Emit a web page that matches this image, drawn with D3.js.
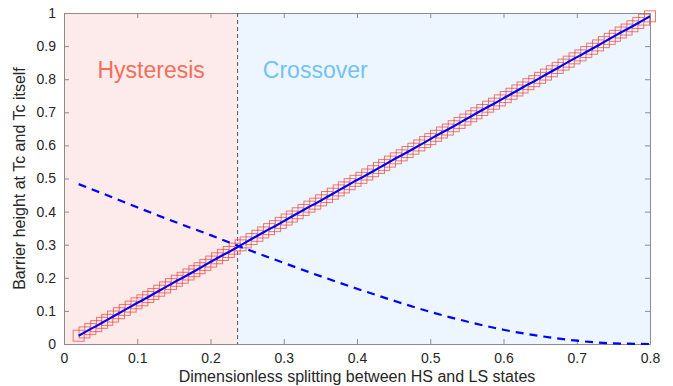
<!DOCTYPE html>
<html>
<head>
<meta charset="utf-8">
<script src="https://cdn.jsdelivr.net/npm/d3@7"></script>
<style>
  body { margin: 0; background: #fff; }
  svg text { font-family: "Liberation Sans", Arial, sans-serif; }
</style>
</head>
<body>
<div id="chart"></div>
<script>
// splitting values where the barrier was computed (red squares + solid line)
var splitting = [0.020, 0.028, 0.036, 0.044, 0.052, 0.059, 0.067, 0.075, 0.083, 0.091,
  0.099, 0.107, 0.115, 0.122, 0.130, 0.138, 0.146, 0.154, 0.162, 0.170,
  0.178, 0.185, 0.193, 0.201, 0.209, 0.217, 0.225, 0.233, 0.241, 0.248,
  0.256, 0.264, 0.272, 0.280, 0.288, 0.296, 0.304, 0.311, 0.319, 0.327,
  0.335, 0.343, 0.351, 0.359, 0.367, 0.375, 0.382, 0.390, 0.398, 0.406,
  0.414, 0.422, 0.430, 0.437, 0.445, 0.453, 0.461, 0.469, 0.477, 0.485,
  0.493, 0.500, 0.508, 0.516, 0.524, 0.532, 0.540, 0.548, 0.556, 0.563,
  0.571, 0.579, 0.587, 0.595, 0.603, 0.611, 0.619, 0.626, 0.634, 0.642,
  0.650, 0.658, 0.666, 0.674, 0.682, 0.689, 0.697, 0.705, 0.713, 0.721,
  0.729, 0.737, 0.745, 0.752, 0.760, 0.768, 0.776, 0.784, 0.792, 0.800];
var tcValues = [0.025, 0.035, 0.045, 0.054, 0.064, 0.073, 0.083, 0.093, 0.103, 0.113,
  0.123, 0.132, 0.142, 0.151, 0.161, 0.171, 0.181, 0.191, 0.200, 0.210,
  0.220, 0.229, 0.239, 0.249, 0.259, 0.269, 0.278, 0.288, 0.298, 0.307,
  0.317, 0.327, 0.337, 0.347, 0.356, 0.366, 0.376, 0.385, 0.395, 0.405,
  0.415, 0.424, 0.434, 0.444, 0.454, 0.464, 0.473, 0.483, 0.493, 0.502,
  0.512, 0.522, 0.532, 0.541, 0.551, 0.561, 0.570, 0.580, 0.590, 0.600,
  0.610, 0.619, 0.629, 0.639, 0.648, 0.658, 0.668, 0.678, 0.688, 0.697,
  0.707, 0.717, 0.726, 0.736, 0.746, 0.756, 0.766, 0.775, 0.785, 0.794,
  0.804, 0.814, 0.824, 0.834, 0.844, 0.853, 0.863, 0.872, 0.882, 0.892,
  0.902, 0.912, 0.922, 0.931, 0.941, 0.950, 0.960, 0.970, 0.980, 0.990];

// dashed curve: barrier height
var barrierX = [0.02, 0.05, 0.10, 0.15, 0.20, 0.25, 0.30, 0.35, 0.40,
  0.45, 0.50, 0.55, 0.60, 0.65, 0.70, 0.75, 0.80];
var barrierY = [0.483, 0.457, 0.413, 0.370, 0.329, 0.286, 0.245, 0.205, 0.167,
  0.131, 0.097, 0.068, 0.043, 0.024, 0.010, 0.002, 0.000];

var crossoverAt = 0.237;
var xTicks = [0, 0.1, 0.2, 0.3, 0.4, 0.5, 0.6, 0.7, 0.8];
var yTicks = [0, 0.1, 0.2, 0.3, 0.4, 0.5, 0.6, 0.7, 0.8, 0.9, 1];

var w = 673, h = 386;
var margin = {top: 13, right: 23, bottom: 42, left: 64};
var iw = w - margin.left - margin.right;
var ih = h - margin.top - margin.bottom;

var svg = d3.select("#chart").append("svg")
  .attr("width", w)
  .attr("height", h);
var g = svg.append("g").attr("transform", "translate(" + margin.left + "," + margin.top + ")");

var x = d3.scaleLinear().domain([0, 0.8]).range([0, iw]);
var y = d3.scaleLinear().domain([0, 1]).range([ih, 0]);

// shaded regions
g.append("rect")
  .attr("x", x(0)).attr("y", 0)
  .attr("width", x(crossoverAt) - x(0)).attr("height", ih)
  .attr("fill", "#fcebea");
g.append("rect")
  .attr("x", x(crossoverAt)).attr("y", 0)
  .attr("width", x(0.8) - x(crossoverAt)).attr("height", ih)
  .attr("fill", "#edf6fe");

g.append("text")
  .attr("x", x(0.119)).attr("y", 65)
  .attr("text-anchor", "middle")
  .attr("font-size", 23)
  .attr("fill", "#f26f5c")
  .text("Hysteresis");
g.append("text")
  .attr("x", x(0.343)).attr("y", 65)
  .attr("text-anchor", "middle")
  .attr("font-size", 23)
  .attr("fill", "#72c2f6")
  .text("Crossover");

// axes, ticks inward on all four sides
var tickLen = 5;
var axisColor = "#8c8c8c";
var xb = d3.axisBottom(x).tickValues(xTicks).tickSizeInner(-tickLen).tickSizeOuter(0).tickPadding(9)
  .tickFormat(function(d) { return d === 0 ? "0" : d3.format(".1f")(d); });
var yl = d3.axisLeft(y).tickValues(yTicks).tickSizeInner(-tickLen).tickSizeOuter(0).tickPadding(8)
  .tickFormat(function(d) { return (d === 0 || d === 1) ? String(d) : d3.format(".1f")(d); });
var xt = d3.axisTop(x).tickValues(xTicks).tickSizeInner(-tickLen).tickSizeOuter(0).tickFormat("");
var yr = d3.axisRight(y).tickValues(yTicks).tickSizeInner(-tickLen).tickSizeOuter(0).tickFormat("");

function styleAxis(sel) {
  sel.select(".domain").attr("stroke", axisColor);
  sel.selectAll(".tick line").attr("stroke", axisColor);
  sel.selectAll(".tick text").attr("fill", "#262626").attr("font-size", 14)
    .attr("font-family", "Liberation Sans, Arial, sans-serif");
}
g.append("g").attr("transform", "translate(0," + ih + ")").call(xb).call(styleAxis);
g.append("g").call(yl).call(styleAxis);
g.append("g").call(xt).call(styleAxis);
g.append("g").attr("transform", "translate(" + iw + ",0)").call(yr).call(styleAxis);

// boundary
g.append("line")
  .attr("x1", x(crossoverAt)).attr("x2", x(crossoverAt))
  .attr("y1", 0).attr("y2", ih)
  .attr("stroke", "#555")
  .attr("stroke-width", 1)
  .attr("stroke-dasharray", "4,3");

var pts = splitting.map(function(d, i) { return [d, tcValues[i]]; });
var dashPts = barrierX.map(function(d, i) { return [d, barrierY[i]]; });

var line = d3.line()
  .x(function(d) { return x(d[0]); })
  .y(function(d) { return y(d[1]); });

// squares
var sq = 11;
g.selectAll("rect.mk")
  .data(pts)
  .enter()
    .append("rect")
    .attr("class", "mk")
    .attr("x", function(d) { return x(d[0]) - sq / 2; })
    .attr("y", function(d) { return y(d[1]) - sq / 2; })
    .attr("width", sq).attr("height", sq)
    .attr("fill", "none")
    .attr("stroke", "#f03c32")
    .attr("stroke-opacity", 0.7)
    .attr("stroke-width", 1);

g.append("path")
  .datum(pts)
  .attr("d", line)
  .attr("fill", "none")
  .attr("stroke", "#0000ff")
  .attr("stroke-width", 2.2);

g.append("path")
  .datum(dashPts)
  .attr("d", line.curve(d3.curveMonotoneX))
  .attr("fill", "none")
  .attr("stroke", "#0000ff")
  .attr("stroke-width", 2.2)
  .attr("stroke-dasharray", "8,6");

// labels
svg.append("text")
  .attr("x", margin.left + iw / 2).attr("y", 382)
  .attr("text-anchor", "middle")
  .attr("font-size", 16)
  .attr("fill", "#262626")
  .text("Dimensionless splitting between HS and LS states");
svg.append("text")
  .attr("transform", "translate(25," + (margin.top + ih / 2) + ") rotate(-90)")
  .attr("text-anchor", "middle")
  .attr("font-size", 16)
  .attr("fill", "#262626")
  .text("Barrier height at Tc and Tc itself");
</script>
</body>
</html>
